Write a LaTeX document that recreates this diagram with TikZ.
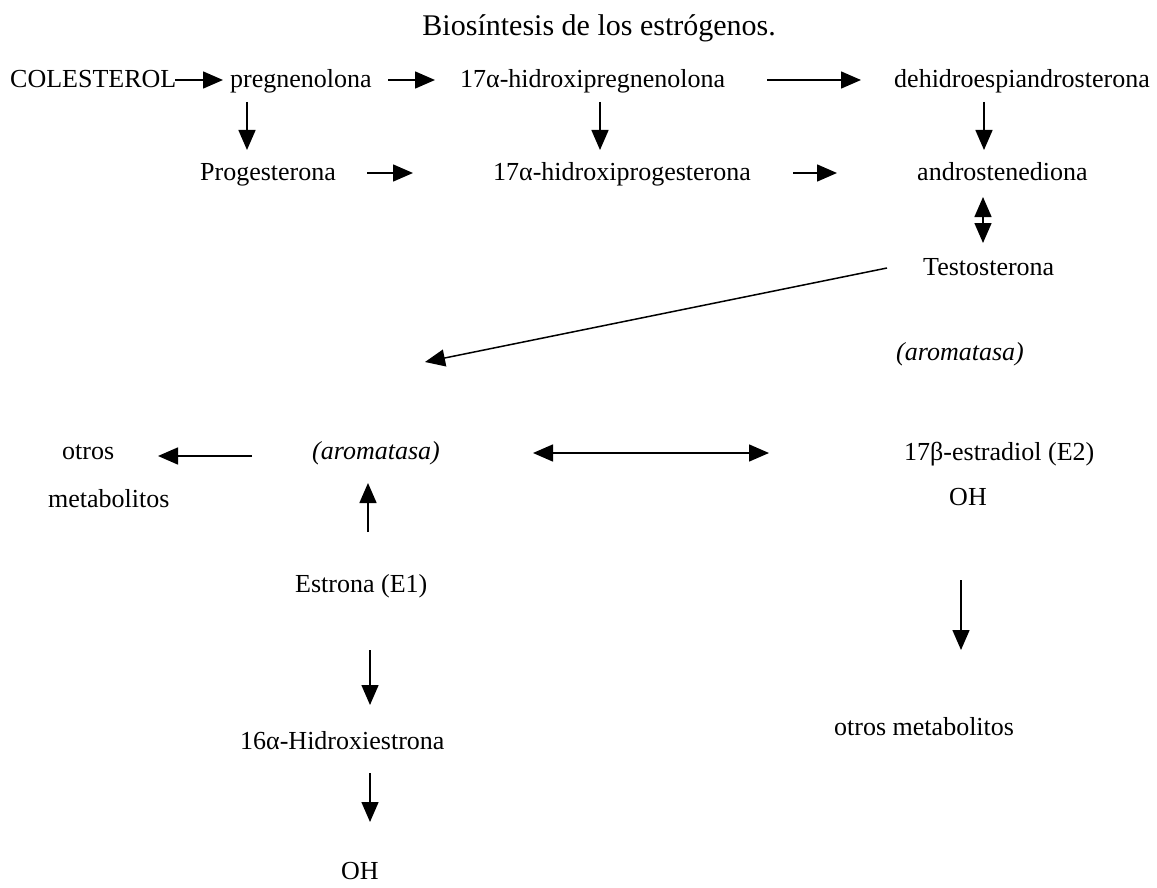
\documentclass[tikz,border=0pt]{standalone}
\usepackage{fontspec}
\setmainfont{Liberation Serif}
\usetikzlibrary{arrows.meta}
\begin{document}
\begin{tikzpicture}[x=1pt,y=-1pt,
  txt/.style={inner sep=0pt, yshift=-5pt, font=\fontsize{26}{31}\selectfont},
  itxt/.style={inner sep=0pt, yshift=-5pt, font=\fontsize{26}{31}\selectfont\itshape},
  ttl/.style={inner sep=0pt, yshift=-5pt, font=\fontsize{30}{36}\selectfont},
  arr/.style={line width=1.5pt, -{Triangle[length=20pt,width=17pt]}},
  darr/.style={line width=1.5pt, {Triangle[length=20pt,width=17pt]}-{Triangle[length=20pt,width=17pt]}}]
\useasboundingbox (0,0) rectangle (1157,888);

% texts
\node[ttl, anchor=mid east] (title) at (776,28) {Biosíntesis de los estrógenos.};
\node[txt, anchor=mid west] (col) at (10,80) {COLESTEROL};
\node[txt, anchor=mid west] (preg) at (230,80) {pregnenolona};
\node[txt, anchor=mid west] (hpreg) at (460,80) {17α-hidroxipregnenolona};
\node[txt, anchor=mid east] (dhea) at (1150,80) {dehidroespiandrosterona};
\node[txt, anchor=mid west] (prog) at (200,173) {Progesterona};
\node[txt, anchor=mid west] (hprog) at (493,173) {17α-hidroxiprogesterona};
\node[txt, anchor=mid west] (andro) at (917,173) {androstenediona};
\node[txt, anchor=mid west] (testo) at (923,268) {Testosterona};
\node[itxt, anchor=mid] (aromR) at (960,353) {(aromatasa)};
\node[txt, anchor=mid west] (otros) at (62,452) {otros};
\node[txt, anchor=mid west] (metab) at (48,500) {metabolitos};
\node[itxt, anchor=mid west] (aromL) at (312,452) {(aromatasa)};
\node[txt, anchor=mid west] (e2) at (904,453) {17β-estradiol (E2)};
\node[txt, anchor=mid] (ohR) at (968,498) {OH};
\node[txt, anchor=mid west] (e1) at (295,585) {Estrona (E1)};
\node[txt, anchor=mid west] (otrosR) at (834,728) {otros metabolitos};
\node[txt, anchor=mid west] (hidroxi) at (240,742) {16α-Hidroxiestrona};
\node[txt, anchor=mid] (ohL) at (360,872) {OH};

% connector end points
\coordinate (a1s) at (175,80);  \coordinate (a1e) at (223,80);
\coordinate (a2s) at (388,80);  \coordinate (a2e) at (435,80);
\coordinate (a3s) at (767,80);  \coordinate (a3e) at (861,80);
\coordinate (d1s) at (247,102); \coordinate (d1e) at (247,150);
\coordinate (d2s) at (600,102); \coordinate (d2e) at (600,150);
\coordinate (d3s) at (984,102); \coordinate (d3e) at (984,150);
\coordinate (b1s) at (367,173); \coordinate (b1e) at (413,173);
\coordinate (b2s) at (793,173); \coordinate (b2e) at (837,173);
\coordinate (ud) at (983,220); \coordinate (uu) at (983,197); \coordinate (ul) at (983,243);
\coordinate (diags) at (887,268); \coordinate (diage) at (425,362);
\coordinate (ls) at (252,456); \coordinate (le) at (158,456);
\coordinate (hs) at (533,453); \coordinate (he) at (769,453);
\coordinate (ups) at (368,532); \coordinate (upe) at (368,483);
\coordinate (rds) at (961,580); \coordinate (rde) at (961,650);
\coordinate (l1s) at (370,650); \coordinate (l1e) at (370,705);
\coordinate (l2s) at (370,773); \coordinate (l2e) at (370,822);

% connectors
\draw[arr] (a1s) -- (a1e);
\draw[arr] (a2s) -- (a2e);
\draw[arr] (a3s) -- (a3e);
\draw[arr] (d1s) -- (d1e);
\draw[arr] (d2s) -- (d2e);
\draw[arr] (d3s) -- (d3e);
\draw[arr] (b1s) -- (b1e);
\draw[arr] (b2s) -- (b2e);
\draw[arr] (ud) -- (uu);
\draw[arr] (ud) -- (ul);
\draw[arr] (diags) -- (diage);
\draw[arr] (ls) -- (le);
\draw[darr] (hs) -- (he);
\draw[arr] (ups) -- (upe);
\draw[arr] (rds) -- (rde);
\draw[arr] (l1s) -- (l1e);
\draw[arr] (l2s) -- (l2e);
\end{tikzpicture}
\end{document}
